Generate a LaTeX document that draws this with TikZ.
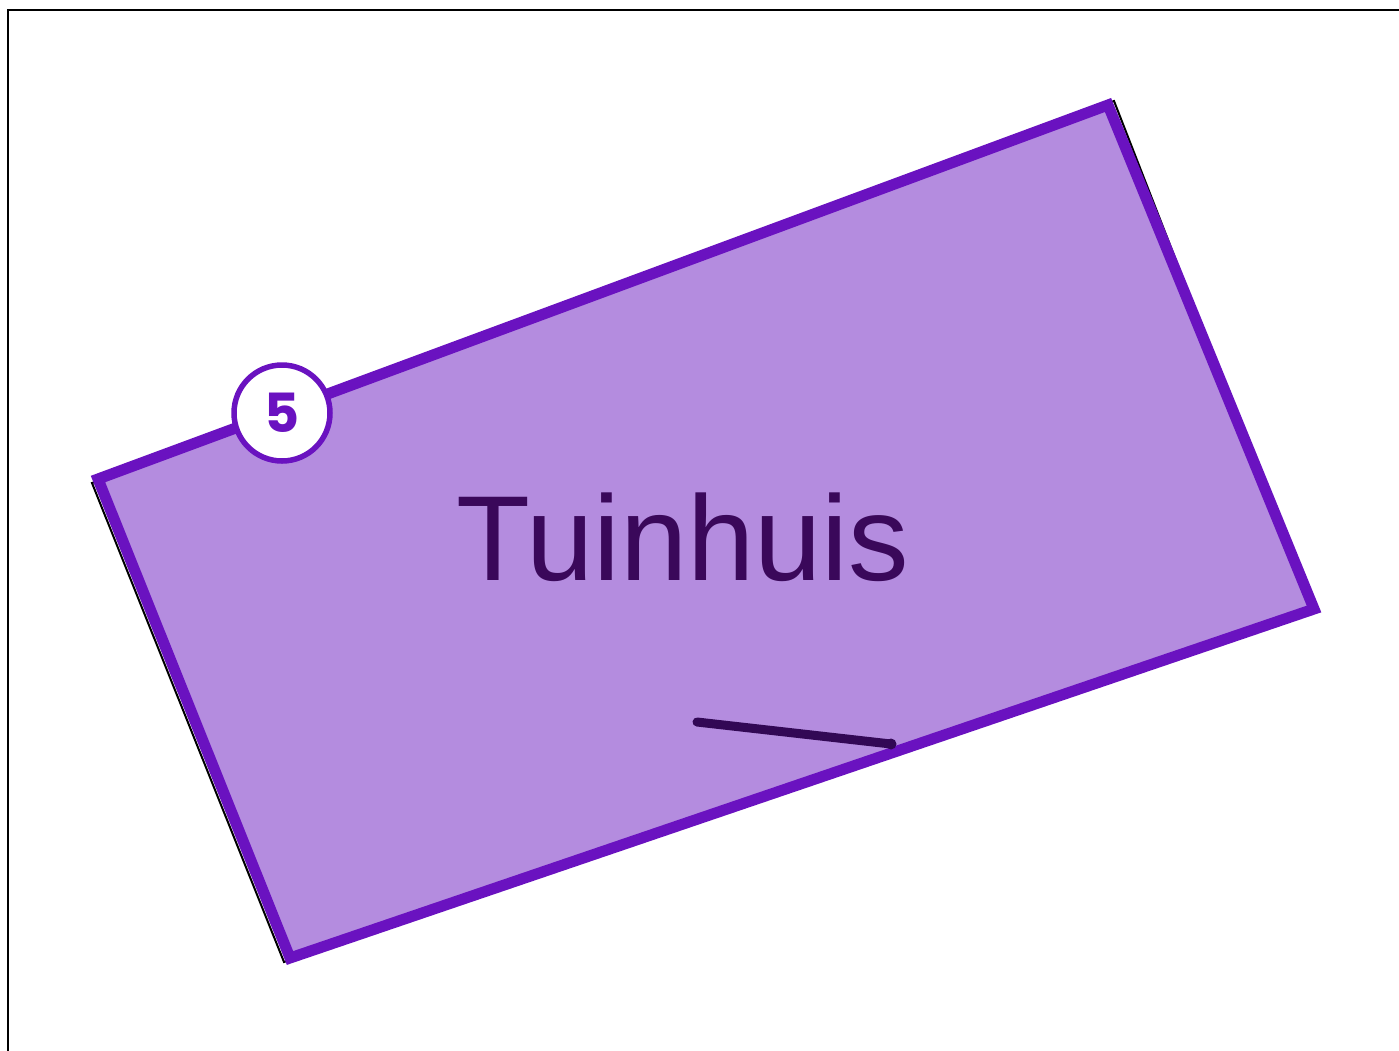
\documentclass[tikz,border=0pt]{standalone}
\usepackage{fontspec}
\setmainfont{Liberation Sans}
\newfontfamily\badgefont{Poppins}[BoldFont={Poppins Bold}]
\definecolor{roomfill}{HTML}{B48CDF}
\definecolor{roomedge}{HTML}{6A12C0}
\definecolor{roomtext}{HTML}{3A085A}
\definecolor{roomline}{HTML}{320855}
\tikzset{
  frameline/.style={draw=black,line width=2pt},
  shadowedge/.style={draw=black,line width=2pt,line join=miter},
  roomshape/.style={draw=roomedge,fill=roomfill,line width=11pt,line join=miter},
  badge/.style={circle,draw=roomedge,fill=white,line width=5.5pt,minimum size=96pt,inner sep=0pt,text=roomedge,font=\badgefont\bfseries\fontsize{54}{54}\selectfont},
  label/.style={text=roomtext,font=\fontsize{121}{121}\selectfont,inner sep=0pt,anchor=base},
  lineseg/.style={draw=roomline,line width=9pt,line cap=round}
}
\begin{document}
\begin{tikzpicture}[x=1pt,y=-1pt]
\useasboundingbox (0,0) rectangle (1399,1050);
\fill[white] (0,0) rectangle (1399,1050);
\coordinate (fbl) at (8,1052);
\coordinate (ftl) at (8,10);
\coordinate (ftr) at (1401,10);
\draw[frameline] (fbl) -- (ftl) -- (ftr);
% shadow outline
\coordinate (s1) at (92,483);
\coordinate (s2) at (1114,101);
\coordinate (s3) at (1312,610);
\coordinate (s4) at (284,962);
\draw[shadowedge] (s1) -- (s2) -- (s3) -- (s4) -- cycle;
% room
\coordinate (r1) at (98,479);
\coordinate (r2) at (1108,105);
\coordinate (r3) at (1314,609);
\coordinate (r4) at (290,958);
\path[roomshape] (r1) -- (r2) -- (r3) -- (r4) -- cycle;
\node[label] (name) at (683,580) {Tuinhuis};
\coordinate (la) at (697,722);
\coordinate (lb) at (891,744);
\draw[lineseg] (la) -- (lb);
\fill[roomline] (lb) circle (5.5pt);
\node[badge] (b5) at (282,413) {5};
\end{tikzpicture}
\end{document}
